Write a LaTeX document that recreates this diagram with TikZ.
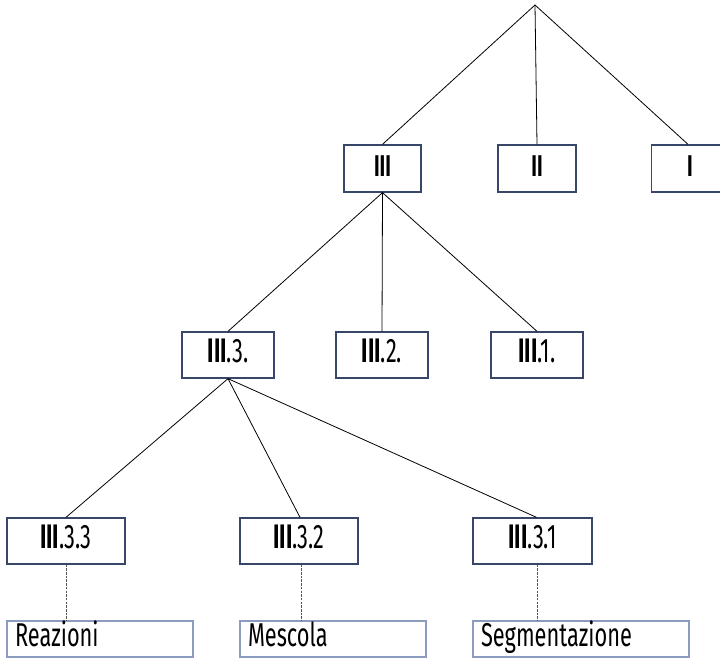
\documentclass[tikz,border=0pt]{standalone}
\usepackage{fontspec}
\newfontfamily\cf[FakeStretch=0.64]{Fira Sans}
\newfontfamily\cfl[FakeStretch=0.66]{Fira Sans}
\definecolor{boxblue}{RGB}{55,70,105}
\definecolor{lightblue}{RGB}{140,155,190}
\definecolor{dashgray}{RGB}{85,85,85}
\tikzset{
  lvl/.style={draw=boxblue, line width=1.3pt, fill=white, inner sep=0pt, text height=26pt, text depth=10pt, font=\cf\fontsize{34}{40}\selectfont},
  top/.style={lvl, text height=27pt, font=\cf\fontsize{30}{34}\selectfont},
  leaf/.style={draw=lightblue, line width=1.1pt, fill=white, inner xsep=8pt, inner ysep=0pt, minimum height=36pt, text height=24pt, text depth=8pt, align=left, font=\cfl\fontsize{33}{37}\selectfont},
  conn/.style={draw=black, line width=0.8pt},
  dconn/.style={draw=dashgray, line width=0.8pt, dash pattern=on 2.5pt off 1.2pt}
}
\begin{document}
\begin{tikzpicture}[x=1pt,y=1pt]
\useasboundingbox (0,0) rectangle (720,658);
\clip (0,0) rectangle (720,658);
\fill[white] (0,0) rectangle (720,658);
\coordinate (root) at (535,653);
% level 1
\node[top, minimum width=77pt, minimum height=47pt] (n1) at (382.5,489.5) {\bfseries III};
\node[top, minimum width=78pt, minimum height=47pt] (n2) at (537,489.5) {\bfseries II};
\node[top, minimum width=77pt, minimum height=47pt] (n3) at (690,489.5) {\bfseries I};
% level 2
\node[lvl, minimum width=92pt, minimum height=46pt] (n33) at (228,303) {\textbf{III}.3.};
\node[lvl, minimum width=92pt, minimum height=46pt] (n32) at (382,303) {\textbf{III}.2.};
\node[lvl, minimum width=92pt, minimum height=46pt] (n31) at (537,303) {\textbf{III}.1.};
% level 3
\node[lvl, minimum width=118pt, minimum height=46pt] (n333) at (66,117) {\textbf{III}.3.3};
\node[lvl, minimum width=118pt, minimum height=46pt] (n332) at (299,117) {\textbf{III}.3.2};
\node[lvl, minimum width=119pt, minimum height=46pt] (n331) at (532.5,117) {\textbf{III}.3.1};
% leaves
\node[leaf, text width=170pt] (b3) at (100,19) {Reazioni};
\node[leaf, text width=170pt] (b2) at (333,19) {Mescola};
\node[leaf, text width=200pt] (b1) at (581,19) {Segmentazione};
% connectors
\draw[conn] (root) -- (n1.north);
\draw[conn] (root) -- (n2.north);
\draw[conn] (root) -- ([xshift=-2pt]n3.north);
\draw[conn] (n1.south) -- (n33.north);
\draw[conn] (n1.south) -- (n32.north);
\draw[conn] (n1.south) -- (n31.north);
\draw[conn] (n33.south) -- (n333.north);
\draw[conn] (n33.south) -- ([xshift=1pt]n332.north);
\draw[conn] (n33.south) -- ([xshift=4pt]n331.north);
\draw[dconn] (n333.south) -- (n333.south |- b3.north);
\draw[dconn] ([xshift=2pt]n332.south) -- ([xshift=2pt]n332.south |- b2.north);
\draw[dconn] ([xshift=4.5pt]n331.south) -- ([xshift=4.5pt]n331.south |- b1.north);
\end{tikzpicture}
\end{document}
